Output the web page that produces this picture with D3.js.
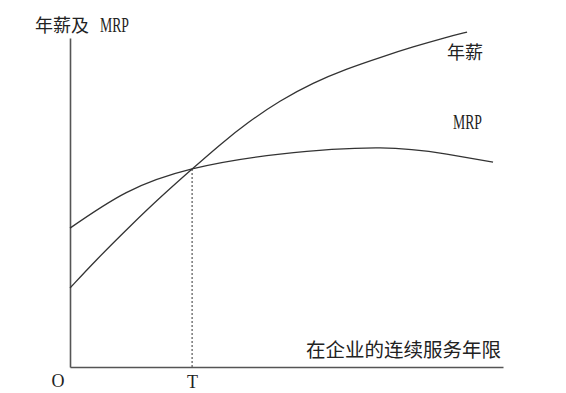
<!DOCTYPE html>
<html>
<head>
<meta charset="utf-8">
<script src="https://cdn.jsdelivr.net/npm/d3@7"></script>
<style>
  body { margin: 0; background: #fff; }
  svg { display: block; }
  .cn { font-family: "Noto Sans CJK SC", sans-serif; }
  .lat { font-family: "Liberation Serif", serif; }
</style>
</head>
<body>
<div id="root"></div>
<script>
// years of service (x) and level (y)
const salaryX = [0, 0.6, 1.4, 2.1, 2.82, 3.5, 4.09, 4.85, 5.61, 6.40, 7.16, 7.92, 8.71, 9.17]
const salaryY = [2.40, 3.25, 4.30, 5.18, 6.02, 6.80, 7.42, 8.10, 8.64, 9.07, 9.41, 9.73, 10.03, 10.18]

const mrpX = [0, 1.3, 2.82, 4.85, 7.16, 8.7, 9.77]
const mrpY = [4.22, 5.3, 6.02, 6.47, 6.66, 6.47, 6.23]

const T = 2.82
const tickLabels = ['T']

const w = 566, h = 393

const svg = d3.select('#root')
    .append('svg')
    .attr('width', w)
    .attr('height', h)

const x = d3.scaleLinear().domain([0, 10]).range([70, 503])
const y = d3.scaleLinear().domain([0, 10]).range([367, 38])

// axes
const xAxis = svg.append('g')
    .attr('transform', `translate(0,${y(0)})`)
    .call(d3.axisBottom(x).tickValues([T]).tickSize(0).tickSizeOuter(0).tickPadding(8)
        .tickFormat((d, i) => tickLabels[i]))
xAxis.select('.domain').attr('stroke', '#555').attr('stroke-width', 1.6)
xAxis.selectAll('text').attr('class', 'lat').attr('font-size', 18).attr('fill', '#222')

const yAxis = svg.append('g')
    .attr('transform', `translate(${x(0)},0)`)
    .call(d3.axisLeft(y).tickValues([]).tickSizeOuter(0))
yAxis.select('.domain').attr('stroke', '#555').attr('stroke-width', 1.6)

// dashed guide at T
svg.append('line')
    .attr('x1', x(T)).attr('x2', x(T))
    .attr('y1', y(6.02)).attr('y2', y(0))
    .attr('stroke', '#555')
    .attr('stroke-width', 1.2)
    .attr('stroke-dasharray', '2,2')

const line = d3.line()
    .x(d => x(d[0]))
    .y(d => y(d[1]))

svg.append('path')
    .datum(salaryX.map((v, i) => [v, salaryY[i]]))
    .attr('d', line.curve(d3.curveBasis))
    .attr('fill', 'none')
    .attr('stroke', '#333')
    .attr('stroke-width', 1.3)

svg.append('path')
    .datum(mrpX.map((v, i) => [v, mrpY[i]]))
    .attr('d', line.curve(d3.curveNatural))
    .attr('fill', 'none')
    .attr('stroke', '#333')
    .attr('stroke-width', 1.3)

// labels
svg.append('text')
    .attr('class', 'cn')
    .attr('x', 35).attr('y', 32)
    .attr('font-size', 18)
    .attr('fill', '#222')
    .text('年薪及')

svg.append('text')
    .attr('class', 'lat')
    .attr('x', 100).attr('y', 32)
    .attr('font-size', 20)
    .attr('textLength', 29)
    .attr('lengthAdjust', 'spacingAndGlyphs')
    .attr('fill', '#222')
    .text('MRP')

svg.append('text')
    .attr('class', 'cn')
    .attr('x', 447).attr('y', 59)
    .attr('font-size', 18)
    .attr('fill', '#222')
    .text('年薪')

svg.append('text')
    .attr('class', 'lat')
    .attr('x', 453).attr('y', 129)
    .attr('font-size', 20)
    .attr('textLength', 29)
    .attr('lengthAdjust', 'spacingAndGlyphs')
    .attr('fill', '#222')
    .text('MRP')

svg.append('text')
    .attr('class', 'cn')
    .attr('x', 501).attr('y', 357)
    .attr('text-anchor', 'end')
    .attr('font-size', 19.5)
    .attr('fill', '#222')
    .text('在企业的连续服务年限')

svg.append('text')
    .attr('class', 'lat')
    .attr('x', 58).attr('y', 387)
    .attr('text-anchor', 'middle')
    .attr('font-size', 18)
    .attr('fill', '#222')
    .text('O')
</script>
</body>
</html>
